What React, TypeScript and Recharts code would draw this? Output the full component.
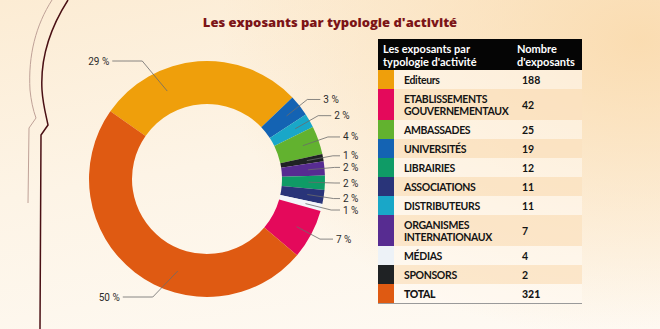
import React from 'react';
import { PieChart, Pie, Cell } from 'recharts';

// Ring slices, clockwise from the upper-left edge
const sliceNames = [
  'Editeurs',
  'Universités',
  'Distributeurs',
  'Ambassades',
  'Sponsors',
  'Organismes internationaux',
  'Librairies',
  'Associations',
  'Médias',
  'Etablissements gouvernementaux',
  'Total',
];
const slicePercents = [29, 3, 2, 4, 1, 2, 2, 2, 1, 7, 50];
const sliceColors = [
  '#ef9f0b', '#1463b3', '#19a7c8', '#62b22f', '#1f2224', '#572c91',
  '#0f9b66', '#293479', '#f3f6fa', '#e4095b', '#df5a12',
];

// Table rows
const rowLabels = [
  ['Editeurs'],
  ['ETABLISSEMENTS', 'GOUVERNEMENTAUX'],
  ['AMBASSADES'],
  ['UNIVERSITÉS'],
  ['LIBRAIRIES'],
  ['ASSOCIATIONS'],
  ['DISTRIBUTEURS'],
  ['ORGANISMES', 'INTERNATIONAUX'],
  ['MÉDIAS'],
  ['SPONSORS'],
  ['TOTAL'],
];
const rowCounts = [188, 42, 25, 19, 12, 11, 11, 7, 4, 2, 321];
const rowColors = [
  '#ef9f0b', '#e4095b', '#62b22f', '#1463b3', '#0f9b66', '#293479',
  '#19a7c8', '#572c91', '#edf2f7', '#1f2224', '#df5a12',
];

const pieData = sliceNames.map((name, i) => ({ name, value: slicePercents[i] }));

const RADIAN = Math.PI / 180;

const renderLabel = (props: any) => {
  const { cx, cy, midAngle, innerRadius, outerRadius, value } = props;
  const ringR = (innerRadius + outerRadius) / 2;
  const onLeft = Math.cos(midAngle * RADIAN) < 0;
  let pts: number[][];
  let tx: number;
  let anchor: 'start' | 'end';
  if (onLeft) {
    const up = Math.sin(midAngle * RADIAN) > 0;
    const a = (midAngle + 20) * RADIAN;
    const ax = cx + ringR * Math.cos(a);
    const ay = cy - ringR * Math.sin(a);
    const ex = ax - 25;
    const ey = up ? cy - outerRadius : cy + outerRadius;
    const lx = ex - 30;
    pts = [[ax, ay], [ex, ey], [lx, ey]];
    tx = lx - 3;
    anchor = 'end';
  } else {
    const c = Math.cos(midAngle * RADIAN);
    const s = Math.sin(midAngle * RADIAN);
    const ax = cx + (ringR + 5) * c;
    const ay = cy - (ringR + 5) * s;
    const ex = cx + (outerRadius + 10) * c;
    const ey = cy - (outerRadius + 10) * s;
    const textX = Math.min(ex + 16, cx + outerRadius + 18);
    const lx = textX - 3;
    pts = [[ax, ay], [ex, ey], [lx, ey]];
    tx = textX;
    anchor = 'start';
  }
  const y = pts[2][1];
  return (
    <g>
      <polyline
        points={pts.map((p) => p.join(',')).join(' ')}
        fill="none"
        stroke="#6b6b6b"
        strokeWidth={0.8}
      />
      <text
        x={tx}
        y={y}
        dy="0.35em"
        textAnchor={anchor}
        fontFamily="Roboto, sans-serif"
        fontSize={10}
        fill="#2b2b2b"
      >
        {`${value} %`}
      </text>
    </g>
  );
};

const Arch = () => (
  <svg width={660} height={329} style={{ position: 'absolute', left: 0, top: 0 }}>
    <path
      d="M52,0 C36,25 28,55 30,90 C31,100 33,110 36,118 L29,128 L28,203"
      fill="none"
      stroke="#bfa197"
      strokeWidth={1}
    />
    <path
      d="M68,0 C52,25 40,55 42,90 C43,105 46,115 48,125 L41,135 L40,329"
      fill="none"
      stroke="#4a1014"
      strokeWidth={1.5}
    />
  </svg>
);

const Table = () => (
  <div
    style={{
      position: 'absolute',
      left: 378,
      top: 39,
      width: 204,
      fontFamily: 'Lato, sans-serif',
      color: '#141414',
    }}
  >
    <div
      style={{
        height: 31,
        background: '#050505',
        color: '#fff',
        fontWeight: 700,
        fontSize: 11,
        lineHeight: '12.5px',
        display: 'flex',
        alignItems: 'center',
        paddingTop: 2,
        boxSizing: 'border-box',
      }}
    >
      <div style={{ width: 134, paddingLeft: 5 }}>
        Les exposants par
        <br />
        typologie d'activité
      </div>
      <div>
        Nombre
        <br />
        d'exposants
      </div>
    </div>
    {rowLabels.map((lines, i) => {
      const isTotal = i === rowLabels.length - 1;
      return (
        <div
          key={i}
          style={{
            height: lines.length === 2 ? 31 : 19,
            display: 'flex',
            alignItems: 'center',
            background: i % 2 === 1 ? 'rgba(251,226,192,0.75)' : 'rgba(255,250,242,0.55)',
            borderBottom: isTotal ? '1.5px solid #9a9a9a' : 'none',
            fontSize: 10.5,
            fontWeight: isTotal ? 900 : 700,
            lineHeight: '12px',
          }}
        >
          <div style={{ width: 16, alignSelf: 'stretch', background: rowColors[i] }} />
          <div style={{ width: 118, paddingLeft: 10, letterSpacing: -0.35 }}>
            {lines.map((l, j) => (
              <div key={j}>{l}</div>
            ))}
          </div>
          <div>{rowCounts[i]}</div>
        </div>
      );
    })}
  </div>
);

export default function App() {
  return (
    <div
      style={{
        position: 'absolute',
        left: 0,
        top: 0,
        width: 660,
        height: 329,
        overflow: 'hidden',
        background:
          'radial-gradient(ellipse 420px 300px at 640px 40px, rgba(250,218,172,0.9), rgba(250,218,172,0) 100%), linear-gradient(170deg, #fcecd4 0%, #fdf4e6 45%, #fefaf4 100%)',
      }}
    >
      <Arch />
      <div
        style={{
          position: 'absolute',
          left: 0,
          top: 13,
          width: 660,
          textAlign: 'center',
          fontFamily: '"Open Sans", sans-serif',
          fontWeight: 800,
          fontSize: 13,
          color: '#7c1417',
          lineHeight: '18px',
        }}
      >
        Les exposants par typologie d'activité
      </div>
      <div style={{ position: 'absolute', left: 0, top: 0 }}>
        <PieChart width={660} height={329} margin={{ top: 0, right: 0, bottom: 0, left: 0 }}>
          <Pie
            data={pieData}
            dataKey="value"
            nameKey="name"
            cx={207}
            cy={179}
            innerRadius={75}
            outerRadius={118}
            startAngle={145}
            endAngle={-215}
            stroke="none"
            label={renderLabel}
            labelLine={false}
            isAnimationActive={false}
          >
            {pieData.map((d, i) => (
              <Cell key={d.name} fill={sliceColors[i]} />
            ))}
          </Pie>
        </PieChart>
      </div>
      <Table />
    </div>
  );
}
